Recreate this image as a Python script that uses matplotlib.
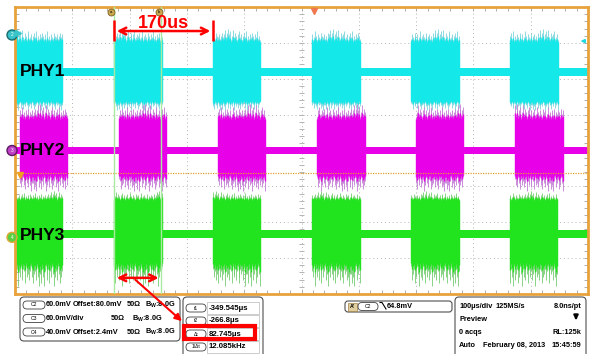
import numpy as np
import matplotlib.pyplot as plt
from matplotlib.patches import FancyBboxPatch, Rectangle, Circle
from matplotlib.transforms import blended_transform_factory

plt.rcParams['font.family'] = ['Liberation Sans', 'DejaVu Sans']

# scope screen: 10 x 100us/div, 8 vertical div, centre of screen at -22.3us
time_per_div = 100.0
screen_center = -22.3

# burst start / end times (us)
phy1_start = [-523, -349.5, -176.5, -4, 169, 341.5]
phy1_end = [-440, -266, -95, 80, 252.5, 425]
phy2_start = [-514, -341, -168, 5, 177.5, 350]
phy2_end = [-431.5, -259, -86, 89, 259.5, 434]
phy3_start = [-523, -349.5, -176.5, -4, 169, 341.5]
phy3_end = [-440, -266, -95, 79, 252.5, 424]

# levels in divisions: idle line, burst core top, core bottom, spike top, spike bottom
phy1_levels = [2.19, 3.00, 1.42, 3.40, 1.10]
phy2_levels = [0.0, 0.85, -0.62, 1.30, -1.20]
phy3_levels = [-2.32, -1.40, -3.05, -1.12, -3.85]

# spike heights across a burst (0 = core edge, 1 = highest spike), estimated
spikes_up = [0.9, 0.4, 0.7, 1.0, 0.3, 0.6, 0.8, 0.2, 0.5, 0.9, 0.4, 0.3, 0.7, 0.5,
             0.2, 0.6, 0.8, 0.3, 0.4, 0.6, 0.2, 0.5, 0.7, 0.3, 0.4, 0.8, 0.2, 0.5,
             0.3, 0.6, 0.4, 0.2, 0.7, 0.5, 0.3, 0.6, 0.2, 0.4, 0.8, 0.3, 0.5, 0.2,
             0.6, 0.4, 0.3, 0.7, 0.2, 0.5, 0.4, 0.6, 0.3, 0.5, 0.2, 0.7, 0.4, 0.6]
spikes_down = [0.5, 0.8, 0.3, 0.6, 0.9, 0.4, 0.2, 0.7, 0.5, 0.3, 0.8, 0.4, 0.6, 0.2,
               0.5, 0.9, 0.3, 0.6, 0.4, 0.7, 0.2, 0.5, 0.8, 0.3, 0.6, 0.4, 0.2, 0.7,
               0.5, 0.3, 0.9, 0.4, 0.6, 0.2, 0.5, 0.7, 0.3, 0.4, 0.8, 0.2, 0.6, 0.5,
               0.3, 0.7, 0.4, 0.2, 0.6, 0.8, 0.3, 0.5, 0.4, 0.7, 0.2, 0.6, 0.9, 0.5]

# cursors and trigger
cursor_t = [-349.545, -266.8]
trigger_time = 0.0
trigger_level = -0.63
period_label = "170us"

channels = [
    ("PHY1", phy1_start, phy1_end, phy1_levels, "#14e8e8", "#78d4dc", 3.22),
    ("PHY2", phy2_start, phy2_end, phy2_levels, "#e800e8", "#c47ad6", 0.0),
    ("PHY3", phy3_start, phy3_end, phy3_levels, "#22e41e", "#74cc70", -2.42),
]
marker_style = {"PHY1": ("#38c4c8", "#1a6a70", "2"),
                "PHY2": ("#c040c8", "#5a1a60", "3"),
                "PHY3": ("#58d040", "#e0a838", "4")}

# bottom panel readouts
ch_rows = [("C2", "60.0mV", "Offset:80.0mV", "50Ω"),
           ("C3", "60.0mV/div", "", "50Ω"),
           ("C4", "40.0mV", "Offset:2.4mV", "50Ω")]
cursor_rows = [("t1", "-349.545μs"), ("t2", "-266.8μs"),
               ("Δt", "82.745μs"), ("1/Δt", "12.085kHz")]
trig_text = "64.8mV"
acq_rows = [("100μs/div", "125MS/s", "8.0ns/pt"),
            ("Preview", "", ""),
            ("0 acqs", "", "RL:125k"),
            ("Auto", "February 08, 2013", "15:45:59")]

fig = plt.figure(figsize=(5.9, 3.54), dpi=100)
ax = fig.add_axes([15 / 590, (354 - 294) / 354, 573 / 590, 287 / 354])
x0 = screen_center - 5 * time_per_div
x1 = screen_center + 5 * time_per_div
ax.set_xlim(x0, x1)
ax.set_ylim(-4, 4)

# graticule
ax.set_xticks(screen_center + time_per_div * np.arange(-5, 6))
ax.set_xticks(screen_center + time_per_div / 5 * np.arange(-25, 26), minor=True)
ax.set_yticks(np.arange(-4, 5))
ax.set_yticks(np.arange(-4, 4.01, 0.2), minor=True)
ax.tick_params(which='both', direction='in', top=True, right=True,
               labelbottom=False, labelleft=False, length=3, width=0.6, color='#a0a0a0')
ax.grid(which='major', ls=(0, (1, 3)), color='#b4b4b4', lw=0.7)
for s in ax.spines.values():
    s.set_color('#e8a23c')
    s.set_linewidth(2)
minor_x = screen_center + time_per_div / 5 * np.arange(-25, 26)
minor_y = np.arange(-4, 4.01, 0.2)
ax.vlines(minor_x, -0.06, 0.06, color='#a8a8a8', lw=0.6, zorder=1)
ax.hlines(minor_y, screen_center - 4, screen_center + 4, color='#a8a8a8', lw=0.6, zorder=1)


def draw_channel(start, end, levels, color, light, k0):
    base, ctop, cbot, ptop, pbot = levels
    ax.fill_between([x0, x1], base - 0.11, base + 0.11, color=color, lw=0, zorder=2)
    for k, (a, b) in enumerate(zip(start, end)):
        up = np.roll(spikes_up, 7 * (k + k0))
        dn = np.roll(spikes_down, 5 * (k + k0))
        ts = np.linspace(a, b, len(up))
        ax.fill_between([a, b], cbot, ctop, color=color, lw=0, zorder=2)
        ax.vlines(ts, ctop, ctop + up * (ptop - ctop), color=light, lw=0.6, zorder=2)
        ax.vlines(ts, cbot - dn * (cbot - pbot), cbot, color=light, lw=0.6, zorder=2)
        ax.vlines(ts, cbot - dn * 0.45 * (cbot - pbot), ctop + up * 0.45 * (ptop - ctop),
                  color=color, lw=1.0, zorder=2)


for i, (name, st, en, lv, col, lt, _) in enumerate(channels):
    draw_channel(st, en, lv, col, lt, i * 3)

# trigger level and cursors
ax.axhline(trigger_level, color='#e0a030', ls=(0, (1, 1)), lw=0.9, zorder=3)
for t in cursor_t:
    ax.axvline(t, color='#a8eaa0', lw=1.0, zorder=3)
for t, lab in zip(cursor_t, ['a', 'b']):
    ax.plot(t - 5, 3.87, 'o', ms=5, mfc='#c8a850', mec='#806020', mew=0.6, zorder=5, clip_on=False)
    ax.text(t - 5, 3.87, lab, fontsize=3, ha='center', va='center', zorder=6)
ax.plot(trigger_time, 3.9, 'v', ms=5, color='#f07850', zorder=5, clip_on=False)
tr = blended_transform_factory(ax.transAxes, ax.transData)
ax.plot(0.009, trigger_level - 0.05, 'v', ms=5, color='#f0a020', transform=tr, zorder=5)
ax.annotate('', xy=(0.982, 3.05), xytext=(1.0, 3.05), xycoords=tr, textcoords=tr,
            arrowprops=dict(arrowstyle='-|>', color='#20d8e0', lw=1.2, mutation_scale=5))

# channel labels
for name, st, en, lv, col, lt, my in channels:
    ax.text(0.009, lv[0] if name != "PHY3" else my + 0.06, name, transform=tr,
            fontsize=12.5, fontweight='bold', ha='left', va='center', zorder=7)

# red annotations
yarr = 3.33
ax.annotate('', xy=(phy1_start[1], yarr), xytext=(phy1_start[2], yarr),
            arrowprops=dict(arrowstyle='<->', color='red', lw=1.8, mutation_scale=12), zorder=8)
ax.vlines([phy1_start[1], phy1_start[2]], 3.05, 3.65, color='red', lw=1.8, zorder=8)
ax.text((phy1_start[1] + phy1_start[2]) / 2, 3.55, period_label, color='red',
        fontsize=13, fontweight='bold', ha='center', va='center', zorder=8)
ybot = -3.55
ax.annotate('', xy=(cursor_t[0], ybot), xytext=(cursor_t[1], ybot),
            arrowprops=dict(arrowstyle='<->', color='red', lw=1.8, mutation_scale=12), zorder=8)

# bottom panel (pixel coordinates)
pax = fig.add_axes([0, 0, 1, 1], zorder=5)
pax.set_xlim(0, 590)
pax.set_ylim(354, 0)
pax.axis('off')
pax.patch.set_alpha(0)
fs = 5.3


def rbox(x, y, w, h, r=4, ec='#505050', lw=0.8, fc='white'):
    pax.add_patch(FancyBboxPatch((x, y), w, h, boxstyle=f'round,pad=0,rounding_size={r}',
                                 fc=fc, ec=ec, lw=lw))


def pill(x, y, w, label):
    rbox(x, y - 4, w, 8, r=4, ec='#404040', lw=0.6)
    pax.text(x + w / 2, y, label, fontsize=3.6, ha='center', va='center')


# channel markers left of the screen
for name, st, en, lv, col, lt, my in channels:
    fc, ec, num = marker_style[name]
    yp = 150.5 - my * 35.875
    pax.add_patch(Circle((12, yp), 5, fc=fc, ec=ec, lw=1.0, zorder=6))
    pax.text(12, yp, num, fontsize=3.5, ha='center', va='center', color='white', zorder=7)
pax.plot(17.5, 33, '>', ms=4, color='#38c4c8', zorder=6)

# channel settings box
rbox(20, 297, 160, 44)
for j, (c, v, off, ohm) in enumerate(ch_rows):
    y = 305 + j * 13.5
    pill(23, y, 22, c)
    pax.text(46, y, v, fontsize=fs, fontweight='bold', va='center')
    if off:
        pax.text(73, y, off, fontsize=fs, fontweight='bold', va='center')
    pax.text(127 if off else 111, y, ohm, fontsize=fs, fontweight='bold', va='center')
    pax.text(145 if off else 132, y, r'B$_\mathregular{W}$:8.0G', fontsize=fs,
             fontweight='bold', va='center')

# cursor box
rbox(183, 297, 80, 62)
for j, (c, v) in enumerate(cursor_rows):
    y = 308 + j * 13
    pill(186, y, 20, c)
    pax.add_patch(Rectangle((207, y - 6), 52, 12, fc='white', ec='#c4c4c4', lw=0.6))
    pax.text(209, y, v, fontsize=fs + 0.3, fontweight='bold', va='center')
pax.add_patch(Rectangle((183.5, 325.5), 71, 13, fc='none', ec='red', lw=3, zorder=9))
pax.annotate('', xy=(184, 323), xycoords='data',
             xytext=(-316, ybot), textcoords=ax.transData,
             arrowprops=dict(arrowstyle='-|>', color='red', lw=1.5, mutation_scale=10), zorder=9)

# trigger box
rbox(345, 301, 107, 11, r=3)
pax.add_patch(Rectangle((348, 302.5), 9, 8, fc='#e0d0a0', ec='#a08040', lw=0.5))
pax.text(352.5, 306.5, "A'", fontsize=3.8, fontweight='bold', ha='center', va='center')
pill(358, 306.5, 20, 'C2')
pax.plot([380, 382, 386], [302.5, 302.5, 309], color='black', lw=0.8)
pax.text(387, 306.5, trig_text, fontsize=fs, fontweight='bold', va='center')

# timebase box
rbox(455, 297, 131, 62)
for j, (a, b, c) in enumerate(acq_rows):
    y = 306 + j * 13.3
    pax.text(459, y, a, fontsize=fs, fontweight='bold', va='center')
    if b:
        pax.text(496 if j == 0 else 483, y, b, fontsize=fs, fontweight='bold', va='center')
    if c:
        pax.text(581, y, c, fontsize=fs, fontweight='bold', va='center', ha='right')
pax.annotate('', xy=(576, 323), xytext=(576, 314),
             arrowprops=dict(arrowstyle='-|>', color='black', lw=1.6, mutation_scale=6))

fig.savefig('out.png', dpi=100)
